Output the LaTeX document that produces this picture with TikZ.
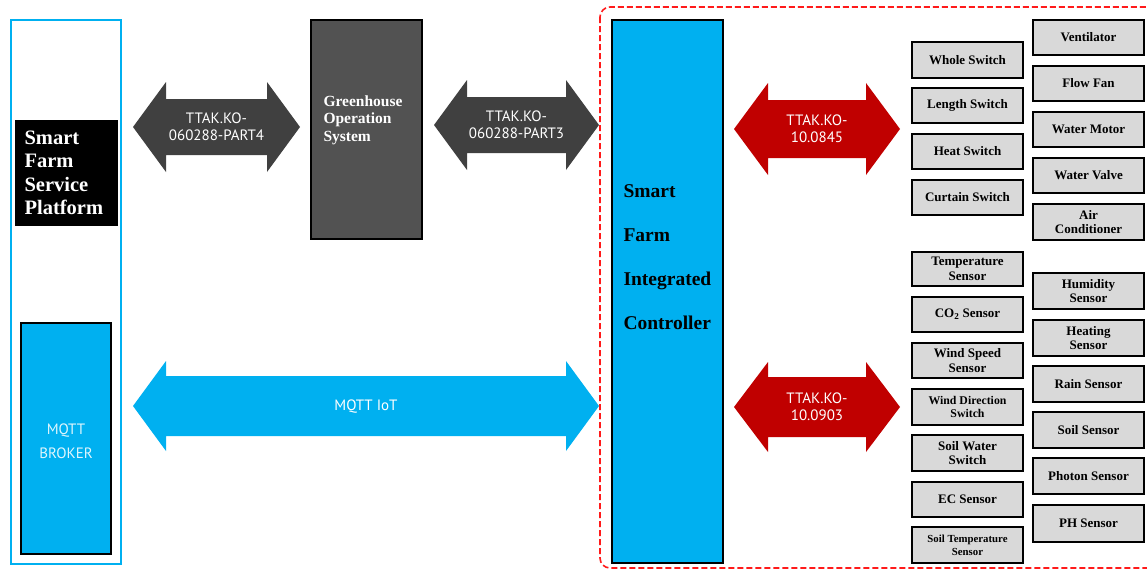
\documentclass[tikz,border=0pt]{standalone}
\usepackage{fontspec}
\setmainfont{Liberation Serif}
\newfontfamily\uisans{PT Sans}
\definecolor{skyblue}{HTML}{00B0F0}
\definecolor{arrowgrey}{HTML}{404040}
\definecolor{ghsgrey}{HTML}{525252}
\definecolor{stdred}{HTML}{C00000}
\definecolor{boxgrey}{HTML}{D9D9D9}
\definecolor{zoneRed}{HTML}{FF1A1A}

% double-headed block arrow: x1, x2, yc, shaft half height, head half height, head length, colour
\newcommand\blockarrow[7]{%
  \fill[#7] (#1,#3) -- ({#1+#6},{#3-#5}) -- ({#1+#6},{#3-#4}) -- ({#2-#6},{#3-#4})
    -- ({#2-#6},{#3-#5}) -- (#2,#3) -- ({#2-#6},{#3+#5}) -- ({#2-#6},{#3+#4})
    -- ({#1+#6},{#3+#4}) -- ({#1+#6},{#3+#5}) -- cycle;}

\tikzset{
  devbox/.style={draw=black, line width=2pt, fill=boxgrey, inner sep=0pt,
    font=\bfseries\fontsize{13}{14.5}\selectfont, align=center},
  arrowtext/.style={text=white, font=\uisans\fontsize{15}{17}\selectfont, align=center},
}

% device box from its corners: [options] x1 y1 x2 y2 name text
\newcommand\devnode[7][]{%
  \node[devbox, minimum width={#4-#2}, minimum height={#5-#3}, #1]
    (#6) at ({(#2+#4)/2},{(#3+#5)/2}) {#7};}

\begin{document}
\begin{tikzpicture}[x=1pt, y=-1pt]
\useasboundingbox (0,0) rectangle (1147,573);

% service platform column
\draw[skyblue, line width=2pt] (11,20) rectangle (121,564);
\node[fill=black, minimum width=103pt, minimum height=106pt, inner sep=0pt] (platform) at (66.5,173) {};
\node[text=white, font=\bfseries\fontsize{20.5}{23.5}\selectfont, align=left, anchor=west] (platformtxt) at (21,173)
  {Smart\\Farm\\Service\\Platform};
\node[draw=black, line width=2pt, fill=skyblue, minimum width=90pt, minimum height=231pt, inner sep=0pt]
  (broker) at (66,438.5) {};
\node[text=white!88!skyblue, font=\uisans\fontsize{15}{24}\selectfont, align=center] (brokertxt) at (66,441)
  {MQTT\\BROKER};

% greenhouse operation system
\node[draw=black, line width=1.6pt, fill=ghsgrey, minimum width=111pt, minimum height=219pt, inner sep=0pt]
  (ghs) at (366.5,129.5) {};
\node[text=white, font=\bfseries\fontsize{15.5}{17.5}\selectfont, align=left, anchor=west] (ghstxt) at (320,120)
  {Greenhouse\\Operation\\System};

% integrated controller zone
\draw[zoneRed, line width=1.6pt, dash pattern=on 6pt off 3pt, rounded corners=10pt] (600,7) rectangle (1165,568);
\node[draw=black, line width=1.6pt, fill=skyblue, minimum width=111pt, minimum height=543pt, inner sep=0pt]
  (ctrl) at (667.5,291.5) {};
\node[text=black, font=\bfseries\fontsize{19.5}{44}\selectfont, align=left, anchor=west] (ctrltxt) at (620,257)
  {Smart\\Farm\\Integrated\\Controller};

% protocol arrows
\blockarrow{133}{300}{127}{28}{45}{33}{arrowgrey}
\node[arrowtext] (p4) at (216.5,127) {TTAK.KO-\\060288-PART4};
\blockarrow{434}{599}{125}{28}{45}{33}{arrowgrey}
\node[arrowtext] (p3) at (516.5,125) {TTAK.KO-\\060288-PART3};
\blockarrow{133}{599}{406}{30}{45}{33}{skyblue}
\node[arrowtext] (iot) at (366,407) {MQTT IoT};
\blockarrow{734}{900}{129}{29}{46}{34}{stdred}
\node[arrowtext] (k845) at (817,129) {TTAK.KO-\\10.0845};
\blockarrow{734}{900}{407}{30}{45}{34}{stdred}
\node[arrowtext] (k903) at (817,407) {TTAK.KO-\\10.0903};

% actuator switches
\devnode{912}{42}{1023}{78}{whole}{Whole Switch}
\devnode{912}{88}{1023}{123}{length}{Length Switch}
\devnode{912}{134}{1023}{169}{heat}{Heat Switch}
\devnode{912}{180}{1023}{215}{curtain}{Curtain Switch}

% actuators
\devnode{1033}{20}{1144}{55}{vent}{Ventilator}
\devnode{1033}{66}{1144}{101}{fan}{Flow Fan}
\devnode{1033}{112}{1144}{147}{motor}{Water Motor}
\devnode{1033}{158}{1144}{193}{valve}{Water Valve}
\devnode{1033}{204}{1144}{240}{aircon}{Air\\Conditioner}

% sensors, left column
\devnode{912}{252}{1023}{286}{temp}{Temperature\\Sensor}
\devnode{912}{297}{1023}{332}{co2}{CO\textsubscript{2} Sensor}
\devnode{912}{343}{1023}{378}{wspeed}{Wind Speed\\Sensor}
\devnode[font=\bfseries\fontsize{11.8}{13.5}\selectfont]{912}{389}{1023}{425}{wdir}{Wind Direction\\Switch}
\devnode{912}{435}{1023}{471}{swater}{Soil Water\\Switch}
\devnode{912}{482}{1023}{517}{ec}{EC Sensor}
\devnode[font=\bfseries\fontsize{10.8}{13}\selectfont]{912}{527}{1023}{563}{stemp}{Soil Temperature\\Sensor}

% sensors, right column
\devnode{1033}{273}{1144}{309}{humid}{Humidity\\Sensor}
\devnode{1033}{320}{1144}{356}{heating}{Heating\\Sensor}
\devnode{1033}{366}{1144}{402}{rain}{Rain Sensor}
\devnode{1033}{412}{1144}{448}{soil}{Soil Sensor}
\devnode{1033}{458}{1144}{494}{photon}{Photon Sensor}
\devnode{1033}{505}{1144}{542}{ph}{PH Sensor}
\end{tikzpicture}
\end{document}
